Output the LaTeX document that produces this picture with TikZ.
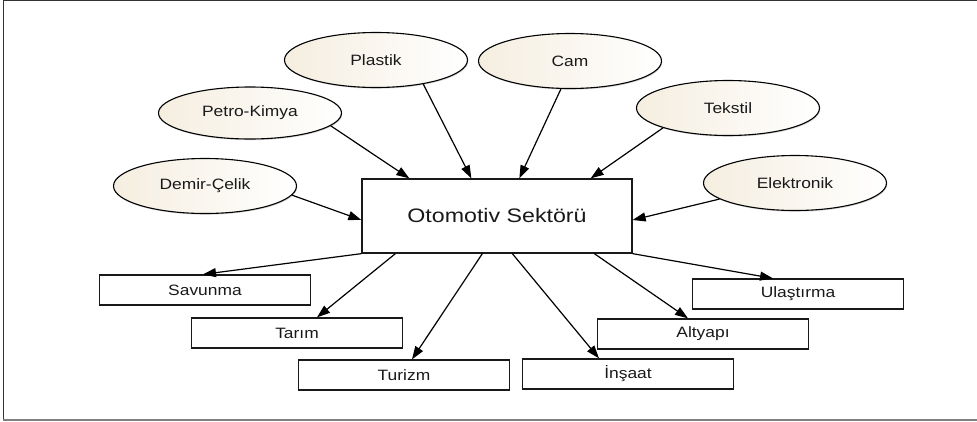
\documentclass[tikz,border=0pt]{standalone}
\usepackage{fontspec}
\setmainfont{Liberation Sans}
\usetikzlibrary{arrows.meta,shadows,shapes.geometric}
\definecolor{cream}{HTML}{F5EEE0}
\definecolor{framedark}{HTML}{333333}
\definecolor{framegray}{HTML}{808080}
\newcommand\hs[1]{\scalebox{1.16}[1]{#1}}
\begin{document}
\begin{tikzpicture}[x=1pt,y=-1pt,
  ell/.style={ellipse, draw=black, line width=1.1pt, left color=cream, right color=white,
    minimum width=183pt, minimum height=55pt, inner sep=0pt,
    font=\fontsize{15}{17}\selectfont, text=black!90,
    drop shadow={shadow xshift=0.8pt, shadow yshift=-1.2pt, fill=black, opacity=0.15}},
  sbox/.style={rectangle, draw=black!90, line width=1.3pt, fill=white,
    minimum width=211pt, minimum height=30pt, inner sep=0pt,
    font=\fontsize{15}{17}\selectfont, text=black!90,
    drop shadow={shadow xshift=0.8pt, shadow yshift=-0.8pt, fill=black, opacity=0.25}},
  cbox/.style={rectangle, draw=black!90, line width=1.3pt, fill=white,
    minimum width=270pt, minimum height=74pt, inner sep=0pt,
    font=\fontsize{19.5}{22}\selectfont, text=black!90,
    drop shadow={shadow xshift=0.8pt, shadow yshift=-0.8pt, fill=black, opacity=0.25}},
  conn/.style={line width=1.2pt, -{Triangle[length=13pt,width=9pt]}}
]
\useasboundingbox (0,0) rectangle (977,421);
% frame
\draw[framedark, line width=1pt] (3,0.5) -- (977,0.5);
\draw[framedark, line width=1.3pt] (3.3,0) -- (3.3,419);
\draw[framegray, line width=2pt] (3,419.5) -- (977,419.5);

% central
\node[cbox] (ot) at (497,216) {\scalebox{1.19}[1]{Otomotiv Sektörü}};

% ellipses
\node[ell] (dc)  at (205,186) {\hs{Demir-Çelik}};
\node[ell, minimum height=52pt] (pk)  at (250,113) {\hs{Petro-Kimya}};
\node[ell] (pl)  at (376,60)  {\hs{Plastik}};
\node[ell] (cam) at (570,61)  {\hs{Cam}};
\node[ell] (tk)  at (728,108) {\hs{Tekstil}};
\node[ell] (el)  at (795,183) {\hs{Elektronik}};

% bottom boxes
\node[sbox] (sav) at (205,290) {\hs{Savunma}};
\node[sbox] (tar) at (297,333) {\hs{Tarım}};
\node[sbox] (tur) at (404,375) {\hs{Turizm}};
\node[sbox] (ins) at (628,374) {\hs{İnşaat}};
\node[sbox] (alt) at (703,334) {\hs{Altyapı}};
\node[sbox] (ula) at (798,294) {\hs{Ulaştırma}};

% incoming
\draw[conn] (dc.-6)    -- ([yshift=-4pt]ot.west);
\draw[conn] (pk.-9)    -- ([xshift=48pt]ot.north west);
\draw[conn] (pl.-27)   -- ([xshift=110pt]ot.north west);
\draw[conn] (cam.-108) -- ([xshift=158pt]ot.north west);
\draw[conn] (tk.-163)  -- ([xshift=-42pt]ot.north east);
\draw[conn] (el.-168)  -- ([yshift=-4pt]ot.east);

% outgoing
\draw[conn] (ot.south west) -- ([xshift=-2pt]sav.north);
\draw[conn] ([xshift=34pt]ot.south west) -- ([xshift=20pt]tar.north);
\draw[conn] ([xshift=121pt]ot.south west) -- ([xshift=8pt]tur.north);
\draw[conn] ([xshift=151pt]ot.south west) -- ([xshift=-29pt]ins.north);
\draw[conn] ([xshift=233pt]ot.south west) -- ([xshift=-15pt]alt.north);
\draw[conn] (ot.south east) -- ([xshift=-25pt]ula.north);
\end{tikzpicture}
\end{document}
